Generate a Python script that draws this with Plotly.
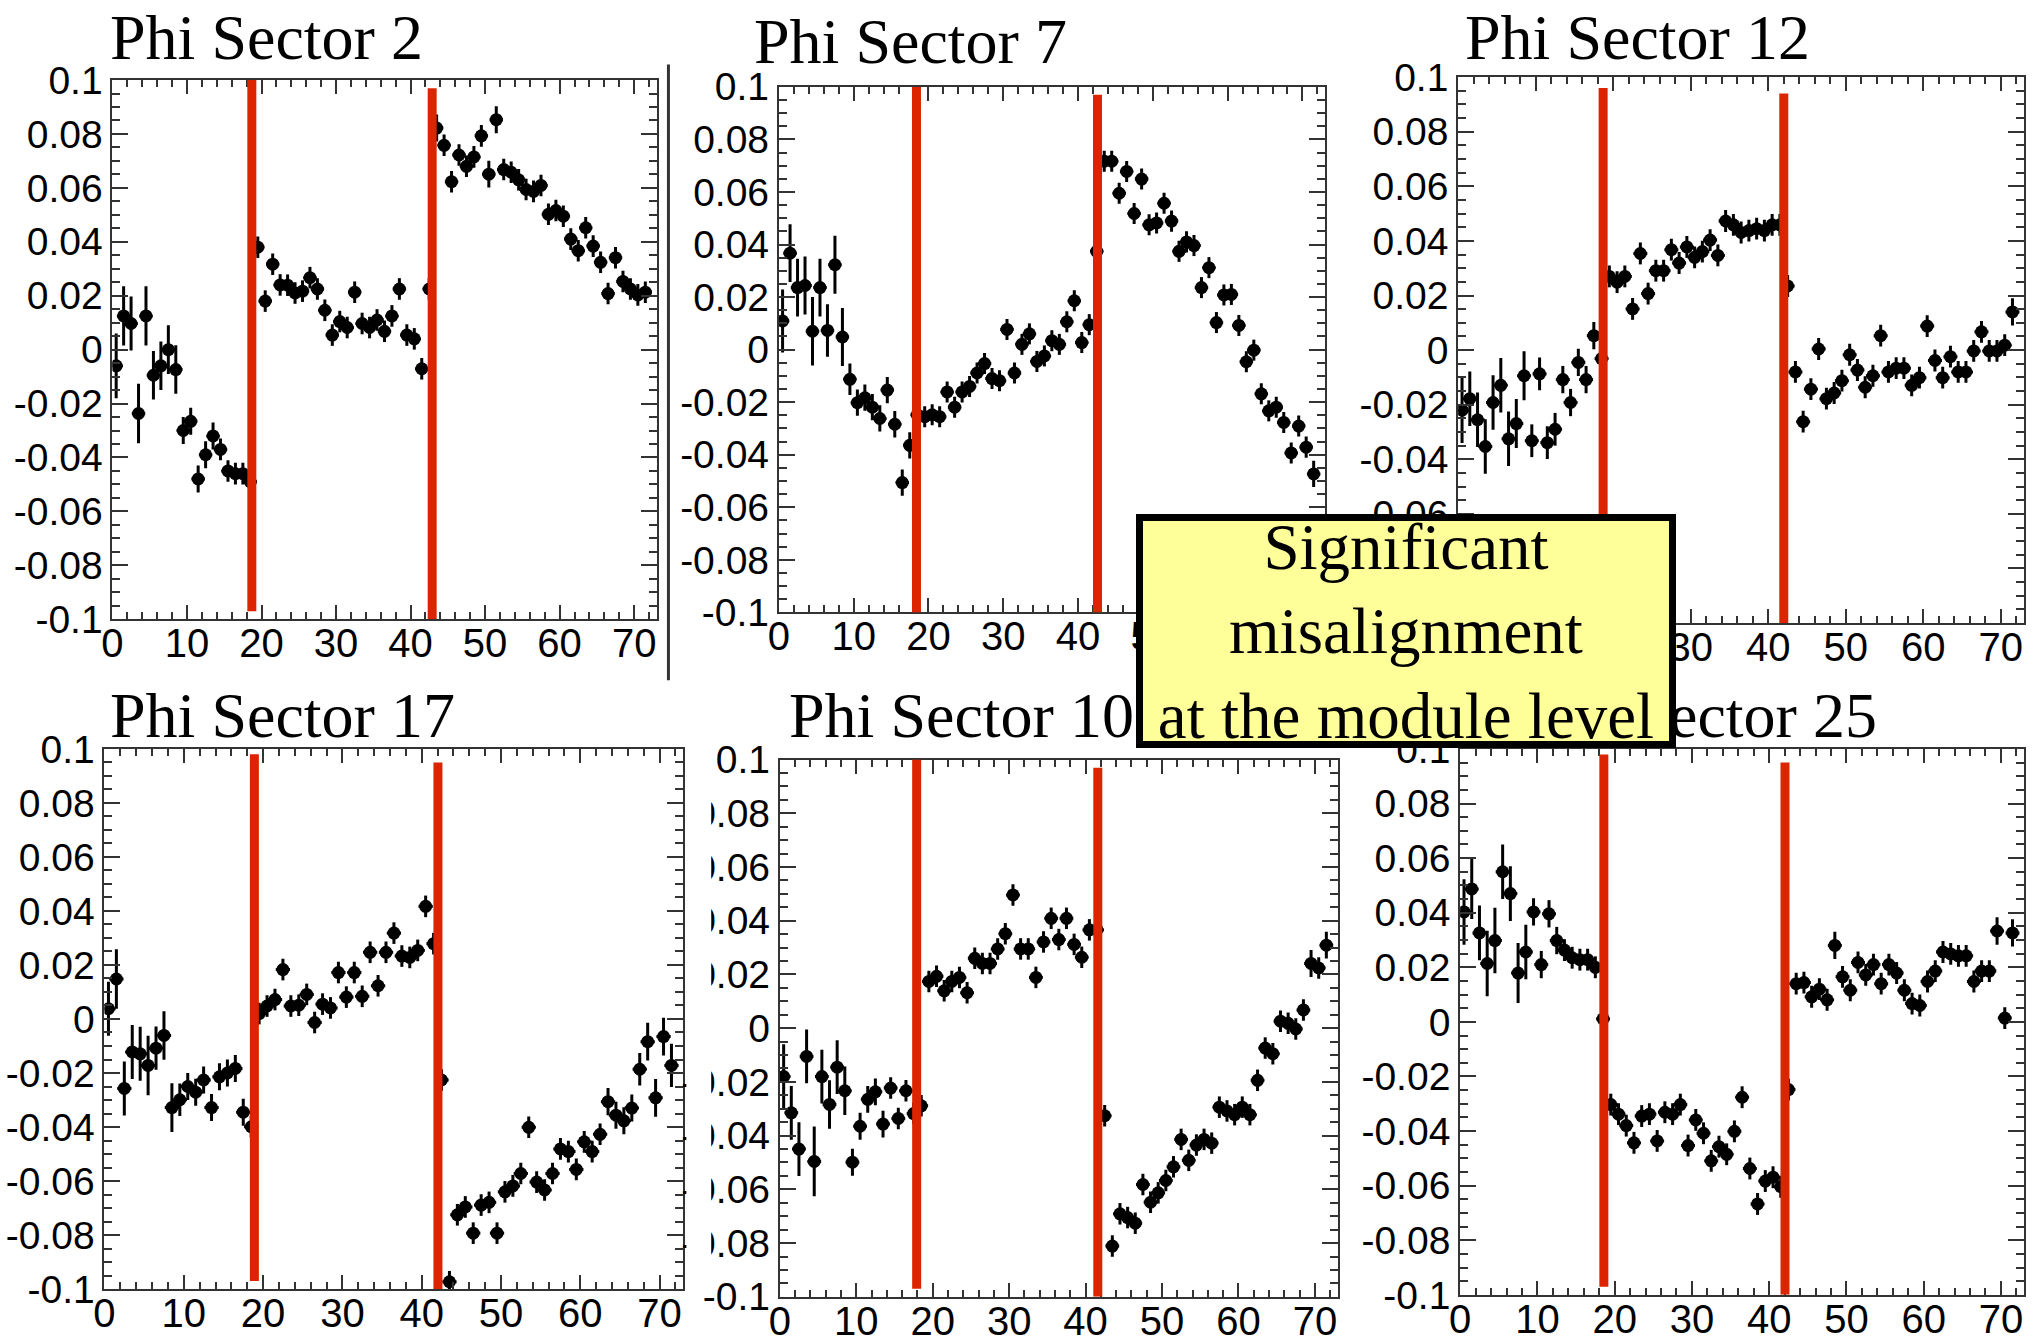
import plotly.graph_objects as go

W, H = 2043, 1343

# ---------------- data ----------------
BIN_CENTERS = [0.5, 1.5, 2.5, 3.5, 4.5, 5.5, 6.5, 7.5, 8.5, 9.5,
               10.5, 11.5, 12.5, 13.5, 14.5, 15.5, 16.5, 17.5, 18.5, 19.5,
               20.5, 21.5, 22.5, 23.5, 24.5, 25.5, 26.5, 27.5, 28.5, 29.5,
               30.5, 31.5, 32.5, 33.5, 34.5, 35.5, 36.5, 37.5, 38.5, 39.5,
               40.5, 41.5, 42.5, 43.5, 44.5, 45.5, 46.5, 47.5, 48.5, 49.5,
               50.5, 51.5, 52.5, 53.5, 54.5, 55.5, 56.5, 57.5, 58.5, 59.5,
               60.5, 61.5, 62.5, 63.5, 64.5, 65.5, 66.5, 67.5, 68.5, 69.5,
               70.5, 71.5]

TITLES = ["Phi Sector 2", "Phi Sector 7", "Phi Sector 12",
          "Phi Sector 17", "Phi Sector 10", "Phi Sector 25"]

X_TICKS = [0, 10, 20, 30, 40, 50, 60, 70]
Y_TICKS = [-0.1, -0.08, -0.06, -0.04, -0.02, 0, 0.02, 0.04, 0.06, 0.08, 0.1]
Y_TICK_TEXT = ["-0.1", "-0.08", "-0.06", "-0.04", "-0.02", "0",
               "0.02", "0.04", "0.06", "0.08", "0.1"]

S2_Y = [-0.006, 0.0125, 0.0097, -0.0237, 0.0125, -0.0095, -0.006, 0.0, -0.0074, -0.030,
        -0.0266, -0.048, -0.039, -0.032, -0.037, -0.045, -0.046, -0.046, -0.049, 0.038,
        0.018, 0.0317, 0.024, 0.0239, 0.021, 0.0217, 0.0267, 0.0225, 0.0146, 0.0054,
        0.0104, 0.0082, 0.0213, 0.0097, 0.0082, 0.011, 0.0068, 0.0125, 0.0225, 0.0054,
        0.004, -0.0071, 0.0225, 0.0822, 0.0758, 0.0623, 0.0722, 0.068, 0.0715, 0.0793,
        0.0651, 0.0853, 0.0668, 0.0658, 0.063, 0.0594, 0.0587, 0.0609, 0.0502, 0.0516,
        0.0495, 0.041, 0.0367, 0.0452, 0.0384, 0.0324, 0.0208, 0.0341, 0.0253, 0.0225,
        0.0203, 0.0213]
S2_ERR = [0.012, 0.011, 0.010, 0.011, 0.011, 0.009, 0.009, 0.009, 0.009, 0.005,
          0.005, 0.005, 0.005, 0.005, 0.004, 0.004, 0.004, 0.004, 0.003, 0.004,
          0.004, 0.004, 0.004, 0.004, 0.004, 0.004, 0.004, 0.004, 0.004, 0.004,
          0.004, 0.004, 0.004, 0.004, 0.004, 0.004, 0.004, 0.004, 0.004, 0.004,
          0.004, 0.004, 0.004, 0.005, 0.004, 0.004, 0.004, 0.004, 0.004, 0.004,
          0.005, 0.005, 0.004, 0.004, 0.004, 0.004, 0.004, 0.004, 0.004, 0.004,
          0.004, 0.004, 0.004, 0.004, 0.004, 0.004, 0.004, 0.004, 0.004, 0.004,
          0.004, 0.004]

S7_Y = [0.0109, 0.0367, 0.0236, 0.0244, 0.007, 0.0236, 0.0073, 0.0323, 0.0048, -0.0113,
        -0.0202, -0.0183, -0.0219, -0.0262, -0.0154, -0.0284, -0.0506, -0.0364, -0.0248, -0.0255,
        -0.0248, -0.0255, -0.0161, -0.0219, -0.0161, -0.014, -0.0089, -0.0053, -0.011, -0.0118,
        0.0077, -0.0089, 0.002, 0.006, -0.0045, -0.0024, 0.0034, 0.002, 0.0106, 0.0186,
        0.0027, 0.0095, 0.0374, 0.0717, 0.0717, 0.0595, 0.0678, 0.0518, 0.0649, 0.0475,
        0.0482, 0.0557, 0.0489, 0.0374, 0.041, 0.0396, 0.0236, 0.0312, 0.0103, 0.0208,
        0.021, 0.0092, -0.0046, -0.0002, -0.0168, -0.0233, -0.0219, -0.0277, -0.0393, -0.0291,
        -0.0371, -0.0473]
S7_ERR = [0.012, 0.011, 0.011, 0.011, 0.013, 0.011, 0.010, 0.011, 0.011, 0.006,
          0.005, 0.005, 0.005, 0.005, 0.005, 0.005, 0.005, 0.005, 0.004, 0.004,
          0.004, 0.004, 0.004, 0.004, 0.004, 0.004, 0.004, 0.004, 0.004, 0.004,
          0.004, 0.004, 0.004, 0.004, 0.004, 0.004, 0.004, 0.004, 0.004, 0.004,
          0.004, 0.004, 0.004, 0.004, 0.004, 0.004, 0.004, 0.004, 0.004, 0.004,
          0.004, 0.004, 0.004, 0.004, 0.004, 0.004, 0.004, 0.004, 0.004, 0.004,
          0.004, 0.004, 0.004, 0.004, 0.004, 0.004, 0.004, 0.004, 0.004, 0.004,
          0.004, 0.005]

S12_Y = [-0.022, -0.0178, -0.0255, -0.0353, -0.0192, -0.0129, -0.0325, -0.0269, -0.0094, -0.0332,
         -0.0087, -0.0339, -0.029, -0.0108, -0.0192, -0.0045, -0.0108, 0.0053, -0.0031, 0.027,
         0.0249, 0.027, 0.0151, 0.0354, 0.0207, 0.0291, 0.0291, 0.0368, 0.0319, 0.0378,
         0.034, 0.0361, 0.0403, 0.0347, 0.0473, 0.0459, 0.0431, 0.0438, 0.0445, 0.0438,
         0.0459, 0.0459, 0.0235, -0.008, -0.0262, -0.0143, 0.0004, -0.0178, -0.0157, -0.0112,
         -0.0017, -0.0073, -0.0136, -0.0094, 0.0053, -0.008, -0.0066, -0.0066, -0.0129, -0.0101,
         0.0088, -0.0038, -0.0101, -0.0024, -0.008, -0.008, -0.0003, 0.0067, -0.0003, -0.0003,
         0.0018, 0.014]
S12_ERR = [0.012, 0.010, 0.010, 0.010, 0.010, 0.010, 0.010, 0.009, 0.009, 0.006,
           0.006, 0.006, 0.006, 0.005, 0.005, 0.005, 0.005, 0.005, 0.004, 0.004,
           0.004, 0.004, 0.004, 0.004, 0.004, 0.004, 0.004, 0.004, 0.004, 0.004,
           0.004, 0.004, 0.004, 0.004, 0.004, 0.004, 0.004, 0.004, 0.004, 0.004,
           0.004, 0.004, 0.004, 0.004, 0.004, 0.004, 0.004, 0.004, 0.004, 0.004,
           0.004, 0.004, 0.004, 0.004, 0.004, 0.004, 0.004, 0.004, 0.004, 0.004,
           0.004, 0.004, 0.004, 0.004, 0.004, 0.004, 0.004, 0.004, 0.004, 0.004,
           0.004, 0.005]

S17_Y = [0.0038, 0.0148, -0.0257, -0.0122, -0.0129, -0.0172, -0.0108, -0.0061, -0.0328, -0.0299,
         -0.025, -0.0271, -0.0226, -0.0328, -0.0214, -0.02, -0.0183, -0.0345, -0.0399, 0.002,
         0.0048, 0.0072, 0.0183, 0.0048, 0.0051, 0.0091, -0.0013, 0.0055, 0.0041, 0.0172,
         0.0081, 0.0172, 0.0084, 0.0247, 0.0123, 0.0247, 0.0318, 0.0233, 0.0228, 0.0254,
         0.0417, 0.0279, -0.0226, -0.0973, -0.0725, -0.0696, -0.0793, -0.0689, -0.0679, -0.0793,
         -0.064, -0.0618, -0.0572, -0.0401, -0.0604, -0.0633, -0.0572, -0.0481, -0.0491, -0.0557,
         -0.0455, -0.0491, -0.0427, -0.0306, -0.0356, -0.0377, -0.033, -0.0186, -0.0084, -0.0292,
         -0.0065, -0.0172]
S17_ERR = [0.010, 0.011, 0.010, 0.010, 0.010, 0.011, 0.008, 0.009, 0.009, 0.006,
           0.005, 0.005, 0.005, 0.005, 0.005, 0.005, 0.005, 0.005, 0.004, 0.004,
           0.004, 0.004, 0.004, 0.004, 0.004, 0.004, 0.004, 0.004, 0.004, 0.004,
           0.004, 0.004, 0.004, 0.004, 0.004, 0.004, 0.004, 0.004, 0.004, 0.004,
           0.004, 0.004, 0.004, 0.004, 0.004, 0.004, 0.004, 0.004, 0.004, 0.004,
           0.004, 0.004, 0.004, 0.004, 0.004, 0.004, 0.004, 0.004, 0.004, 0.004,
           0.004, 0.004, 0.004, 0.005, 0.005, 0.005, 0.005, 0.006, 0.007, 0.007,
           0.007, 0.008]

S10_Y = [-0.018, -0.0315, -0.045, -0.0105, -0.0496, -0.018, -0.0284, -0.0145, -0.0233, -0.0499,
         -0.0365, -0.0265, -0.0237, -0.0357, -0.0223, -0.0336, -0.0233, -0.0318, -0.0289, 0.0174,
         0.0193, 0.0139, 0.0174, 0.0189, 0.0132, 0.026, 0.0241, 0.0241, 0.0295, 0.0352,
         0.0496, 0.0295, 0.0295, 0.0189, 0.0321, 0.0409, 0.033, 0.0409, 0.0312, 0.0264,
         0.0366, 0.0366, -0.0326, -0.0811, -0.0691, -0.0705, -0.0726, -0.0582, -0.0648, -0.0613,
         -0.0567, -0.0516, -0.0414, -0.0492, -0.0435, -0.0414, -0.0428, -0.0294, -0.0308, -0.0322,
         -0.0294, -0.0322, -0.0194, -0.0074, -0.0095, 0.0026, 0.0018, -0.0003, 0.0068, 0.0241,
         0.0224, 0.0309]
S10_ERR = [0.012, 0.010, 0.010, 0.010, 0.013, 0.010, 0.009, 0.010, 0.009, 0.005,
           0.005, 0.005, 0.005, 0.005, 0.004, 0.004, 0.004, 0.004, 0.004, 0.004,
           0.004, 0.004, 0.004, 0.004, 0.004, 0.004, 0.004, 0.004, 0.004, 0.004,
           0.004, 0.004, 0.004, 0.004, 0.004, 0.004, 0.004, 0.004, 0.004, 0.004,
           0.004, 0.004, 0.004, 0.004, 0.004, 0.004, 0.004, 0.004, 0.004, 0.004,
           0.004, 0.004, 0.004, 0.004, 0.004, 0.004, 0.004, 0.004, 0.004, 0.004,
           0.004, 0.004, 0.004, 0.004, 0.004, 0.004, 0.004, 0.004, 0.004, 0.005,
           0.004, 0.005]

S25_Y = [0.0403, 0.0487, 0.0326, 0.0214, 0.0298, 0.055, 0.047, 0.0179, 0.0256, 0.0403,
         0.021, 0.0396, 0.0298, 0.0263, 0.0235, 0.0228, 0.0228, 0.02, 0.0011, -0.0303,
         -0.0338, -0.038, -0.0443, -0.0345, -0.0338, -0.0436, -0.0331, -0.0338, -0.0303, -0.0453,
         -0.0359, -0.0408, -0.0509, -0.0457, -0.0485, -0.0401, -0.0276, -0.0537, -0.0667, -0.0583,
         -0.0569, -0.0604, -0.0248, 0.014, 0.0144, 0.0092, 0.012, 0.0081, 0.028, 0.0165,
         0.0116, 0.0218, 0.0172, 0.021, 0.014, 0.021, 0.0179, 0.0116, 0.0067, 0.006,
         0.0148, 0.0186, 0.0256, 0.0249, 0.0242, 0.0242, 0.0148, 0.0186, 0.0186, 0.0333,
         0.0014, 0.0326]
S25_ERR = [0.012, 0.011, 0.010, 0.012, 0.012, 0.010, 0.010, 0.011, 0.010, 0.005,
           0.005, 0.005, 0.005, 0.004, 0.004, 0.004, 0.004, 0.004, 0.003, 0.004,
           0.004, 0.004, 0.004, 0.004, 0.004, 0.004, 0.004, 0.004, 0.004, 0.004,
           0.004, 0.004, 0.004, 0.004, 0.004, 0.004, 0.004, 0.004, 0.004, 0.004,
           0.004, 0.004, 0.004, 0.004, 0.004, 0.004, 0.004, 0.004, 0.005, 0.004,
           0.004, 0.004, 0.004, 0.004, 0.004, 0.004, 0.004, 0.004, 0.004, 0.004,
           0.004, 0.004, 0.004, 0.004, 0.004, 0.004, 0.004, 0.004, 0.004, 0.005,
           0.004, 0.005]

# module boundaries marked in red (in x units) per panel
BOUNDARIES = [[18.7, 42.9], [18.4, 42.6], [18.7, 42.0],
              [18.9, 42.05], [17.9, 41.6], [18.6, 42.05]]

SERIES = [(S2_Y, S2_ERR), (S7_Y, S7_ERR), (S12_Y, S12_ERR),
          (S17_Y, S17_ERR), (S10_Y, S10_ERR), (S25_Y, S25_ERR)]

BOX_TEXT = "Significant<br>misalignment<br>at the module level"

# ---------------- layout geometry (pixels) ----------------
PANELS = [(102, 649, 61, 618), (772, 1321, 68, 611), (1455, 2024, 58, 622),
          (94, 676, 752, 1310), (773, 1334, 763, 1318), (1457, 2024, 752, 1316)]
RED_Y = [[(-0.097, 0.1), (-0.1, 0.097)], [(-0.1, 0.1), (-0.1, 0.097)],
         [(-0.1, 0.096), (-0.1, 0.094)], [(-0.097, 0.098), (-0.1, 0.095)],
         [(-0.097, 0.1), (-0.1, 0.097)], [(-0.097, 0.098), (-0.1, 0.095)]]
TITLE_POS = [(99, 17, "left"), (746, 21, "left"), (1461, 17, "left"),
             (99, 717, "left"), (781, 717, "left"), (1877, 717, "right")]

YTICKFONT = dict(family="Liberation Sans", size=39, color="black")
XTICKFONT = dict(family="Liberation Sans", size=40, color="black")
SERIF = "Liberation Serif"


def px(xp):
    return xp / W


def py(yp):
    return 1 - yp / H


fig = go.Figure()
shapes = []
layout = dict(width=W, height=H, margin=dict(l=0, r=0, t=0, b=0),
              paper_bgcolor="white", plot_bgcolor="white", showlegend=False)

for k, ((ys, errs), (x0, x1, y0, y1)) in enumerate(zip(SERIES, PANELS)):
    n = "" if k == 0 else str(k + 1)
    xa, ya = "x" + n, "y" + n
    fig.add_trace(go.Scatter(
        x=BIN_CENTERS, y=ys, xaxis=xa, yaxis=ya, mode="markers",
        marker=dict(color="black", size=13, symbol="circle"),
        error_y=dict(type="data", array=errs, visible=True, color="black",
                     thickness=3, width=0),
        error_x=dict(type="constant", value=0.9, visible=True, color="black",
                     thickness=3, width=0),
        cliponaxis=True,
    ))
    layout["xaxis" + n] = dict(
        domain=[px(x0), px(x1)], anchor=ya, range=[0, 73],
        tickmode="array", tickvals=X_TICKS, ticks="inside", ticklen=14,
        tickwidth=2, tickcolor="#333", showline=True, linecolor="#333",
        linewidth=2, mirror="ticks", showgrid=False, zeroline=False,
        tickfont=XTICKFONT, ticklabelstandoff=-12,
        minor=dict(dtick=2, ticks="inside", ticklen=7, tickwidth=2,
                   tickcolor="#333", showgrid=False),
    )
    layout["yaxis" + n] = dict(
        domain=[py(y1), py(y0)], anchor=xa, range=[-0.1, 0.1],
        tickmode="array", tickvals=Y_TICKS, ticktext=Y_TICK_TEXT,
        ticks="inside", ticklen=16, tickwidth=2, tickcolor="#333",
        showline=True, linecolor="#333", linewidth=2, mirror="ticks",
        showgrid=False, zeroline=False, tickfont=YTICKFONT,
        ticklabelstandoff=0,
        minor=dict(dtick=0.005, ticks="inside", ticklen=8, tickwidth=2,
                   tickcolor="#333", showgrid=False),
    )
    for bx, (yb0, yb1) in zip(BOUNDARIES[k], RED_Y[k]):
        shapes.append(dict(type="line", xref=xa, yref=ya, x0=bx, x1=bx,
                           y0=yb0, y1=yb1, layer="above",
                           line=dict(color="#dc2400", width=9)))

# separator line between first two panels
shapes.append(dict(type="line", xref="paper", yref="paper",
                   x0=px(661), x1=px(661), y0=py(45), y1=py(681),
                   line=dict(color="#333", width=3), layer="above"))
# white strip of the neighbouring slide image clipping panel 5 tick labels
shapes.append(dict(type="rect", xref="paper", yref="paper",
                   x0=px(679), x1=px(704), y0=py(1290), y1=py(782),
                   fillcolor="white", line=dict(width=0), layer="above"))

annotations = []
for title, (tx, ty, anc) in zip(TITLES, TITLE_POS):
    annotations.append(dict(text=title, xref="paper", yref="paper",
                            x=px(tx), y=py(ty), xanchor=anc, yanchor="middle",
                            showarrow=False, borderpad=0,
                            font=dict(family=SERIF, size=64, color="black")))

annotations.append(dict(text=BOX_TEXT, xref="paper", yref="paper",
                        x=px(1402.5), y=py(630), xanchor="center",
                        yanchor="middle", showarrow=False, align="center",
                        valign="middle", width=526, height=220,
                        bgcolor="#ffff99", bordercolor="black", borderwidth=7,
                        borderpad=0,
                        font=dict(family=SERIF, size=65, color="black")))

layout["shapes"] = shapes
layout["annotations"] = annotations
fig.update_layout(**layout)

fig.write_html("out.html", config={"displayModeBar": False},
               post_script="document.body.style.margin='0';"
                           "document.body.style.overflow='hidden';")
